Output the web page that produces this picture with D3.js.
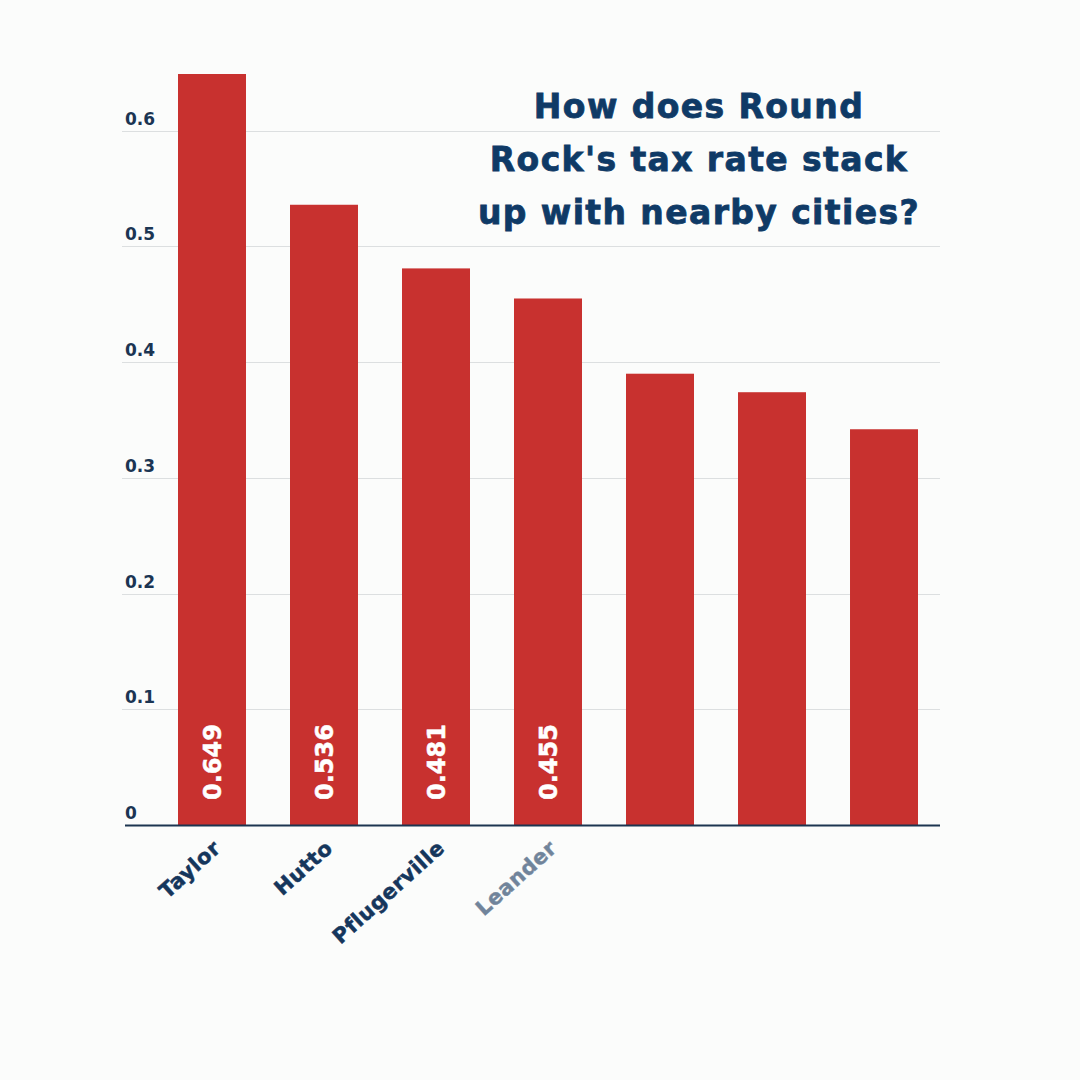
<!doctype html>
<html lang="en">
<head>
    <meta charset="utf-8">
    <title>Round Rock tax rate</title>
    <script src="https://cdnjs.cloudflare.com/ajax/libs/d3/7.8.5/d3.min.js"></script>
    <style>
        html, body {
            margin: 0;
            padding: 0;
            background: #fbfcfb;
        }

        .tick-label {
            fill: #1b3553;
            font: 700 17px "DejaVu Sans", sans-serif;
        }

        .city-label {
            fill: #15365c;
            stroke: #15365c;
            stroke-width: 0.5px;
            font: 700 21px "DejaVu Sans", sans-serif;
            letter-spacing: 0.5px;
        }

        .value-label {
            fill: #ffffff;
            stroke: #ffffff;
            stroke-width: 0.5px;
            font: 700 24px "DejaVu Sans", sans-serif;
        }

        .title {
            fill: #0f3a66;
            stroke: #0f3a66;
            stroke-width: 0.8px;
            font: 700 33px "DejaVu Sans", sans-serif;
            letter-spacing: 1.4px;
            text-anchor: middle;
        }
    </style>
</head>
<body>
    <div id="chart"></div>
    <script>

        // chart data
        var cities = ["Taylor", "Hutto", "Pflugerville", "Leander", "Cedar Park", "Georgetown", "Round Rock"];
        var taxRates = [0.649, 0.536, 0.481, 0.455, 0.390, 0.374, 0.342];
        var valueLabels = ["0.649", "0.536", "0.481", "0.455"];
        var shownCities = ["Taylor", "Hutto", "Pflugerville", "Leander"];
        var yTicks = [0, 0.1, 0.2, 0.3, 0.4, 0.5, 0.6];
        var titleLines = ["How does Round", "Rock's tax rate stack", "up with nearby cities?"];

        var width = 1080;
        var height = 1080;
        var plotLeft = 122;
        var gridEnd = 940;
        var baseline = 825;
        var plotTop = 74;

        var svg = d3.select("#chart")
            .append("svg")
              .attr("width", width)
              .attr("height", height);

        svg.append("rect")
            .attr("width", width)
            .attr("height", height)
            .attr("fill", "#fbfcfb");

        var xScale = d3.scaleBand()
            .domain(cities)
            .range([plotLeft, 974])
            .paddingInner(0.393)
            .paddingOuter(0.5);

        var yScale = d3.scaleLinear()
            .domain([0, 0.649])
            .range([baseline, plotTop]);

        // gridlines and tick labels
        var grid = svg.append("g").attr("class", "grid");

        grid.selectAll("line")
            .data(yTicks.filter(function(d) { return d > 0; }))
            .enter()
            .append("line")
              .attr("x1", plotLeft)
              .attr("x2", gridEnd)
              .attr("y1", function(d) { return Math.round(yScale(d)) + 0.5; })
              .attr("y2", function(d) { return Math.round(yScale(d)) + 0.5; })
              .attr("stroke", "#dcdfe0")
              .attr("stroke-width", 1);

        grid.selectAll("text")
            .data(yTicks)
            .enter()
            .append("text")
              .attr("class", "tick-label")
              .attr("x", plotLeft + 3)
              .attr("y", function(d) { return yScale(d) - 6; })
              .text(function(d) { return d === 0 ? "0" : d3.format(".1f")(d); });

        // bars
        svg.append("g").attr("class", "bars")
            .selectAll("rect")
            .data(taxRates)
            .enter()
            .append("rect")
              .attr("x", function(d, i) { return xScale(cities[i]); })
              .attr("y", function(d) { return yScale(d); })
              .attr("width", xScale.bandwidth())
              .attr("height", function(d) { return baseline - yScale(d); })
              .attr("fill", "#c8312f");

        // value labels inside bars (rotated)
        svg.append("g").attr("class", "values")
            .selectAll("text")
            .data(valueLabels)
            .enter()
            .append("text")
              .attr("class", "value-label")
              .attr("transform", function(d, i) {
                  var cx = xScale(cities[i]) + xScale.bandwidth() / 2 + 9;
                  return "translate(" + cx + "," + (baseline - 25) + ") rotate(-90)";
              })
              .text(function(d) { return d; });

        // baseline
        svg.append("line")
            .attr("x1", plotLeft + 3)
            .attr("x2", gridEnd)
            .attr("y1", baseline + 0.5)
            .attr("y2", baseline + 0.5)
            .attr("stroke", "#1c3550")
            .attr("stroke-width", 2);

        // city labels
        svg.append("g").attr("class", "cities")
            .selectAll("text")
            .data(shownCities)
            .enter()
            .append("text")
              .attr("class", "city-label")
              .attr("text-anchor", "end")
              .attr("opacity", function(d, i) { return i === 3 ? 0.6 : 1; })
              .attr("transform", function(d) {
                  var cx = xScale(d) + xScale.bandwidth() / 2 + 10;
                  return "translate(" + cx + "," + (baseline + 25) + ") rotate(-42)";
              })
              .text(function(d) { return d; });

        // title
        svg.append("g").attr("class", "title-block")
            .selectAll("text")
            .data(titleLines)
            .enter()
            .append("text")
              .attr("class", "title")
              .attr("x", 699)
              .attr("y", function(d, i) { return 118 + i * 53; })
              .text(function(d) { return d; });

    </script>
</body>
</html>
